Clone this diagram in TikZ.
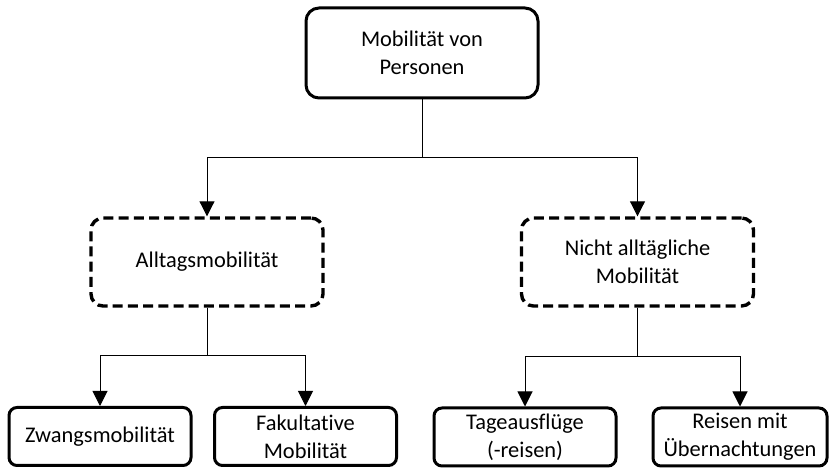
\documentclass[tikz,border=0pt]{standalone}
\usepackage{fontspec}
\setmainfont{Carlito}[Ligatures=NoCommon]
\usepackage{tikz}
\usetikzlibrary{shapes,arrows.meta}

\begin{document}
\begin{tikzpicture}[x=0.5pt,y=-0.5pt]
\tikzstyle{top}=[rectangle, rounded corners=6.5pt, line width=1.5pt, draw=black, minimum width=116pt, minimum height=45pt, align=center, inner sep=0pt, font=\fontsize{11.2}{14}\selectfont]
\tikzstyle{group}=[top, line width=1.7pt, dash pattern=on 5pt off 2.6pt, rounded corners=6pt, minimum height=44pt]
\tikzstyle{leaf}=[top, rounded corners=4pt, minimum width=91pt, minimum height=29pt]
\tikzstyle{connect}=[-{Triangle[length=7.5pt,width=7.5pt]}, line width=0.5pt]
\useasboundingbox (0,0) rectangle (835,469);
	\node[top] (m_0) at (422,53) {Mobilität von\\Personen};
	\node[group] (g_1) at (207,262) {Alltagsmobilität};
	\node[group] (g_2) at (637.5,262) {Nicht alltägliche\\Mobilität};
	\node[leaf] (l_1) at (100,436.5) {Zwangsmobilität};
	\node[leaf] (l_2) at (305.5,436.5) {Fakultative\\Mobilität};
	\node[leaf] (l_3) at (525,437) {Tageausflüge\\(-reisen)};
	\node[leaf, minimum width=87pt] (l_4) at (740,437) {Reisen mit\\Übernachtungen};
	\coordinate (j_0) at (422,158);
	\coordinate (j_1) at (207,356);
	\coordinate (j_2) at (637.5,357);

	\draw[line width=0.5pt] (m_0) -- (j_0);
	\draw[connect] (j_0) -| (g_1);
	\draw[connect] (j_0) -| (g_2);
	\draw[line width=0.5pt] (g_1) -- (j_1);
	\draw[connect] (j_1) -| (l_1);
	\draw[connect] (j_1) -| (l_2);
	\draw[line width=0.5pt] (g_2) -- (j_2);
	\draw[connect] (j_2) -| (l_3);
	\draw[connect] (j_2) -| (l_4);
\end{tikzpicture}
\end{document}
